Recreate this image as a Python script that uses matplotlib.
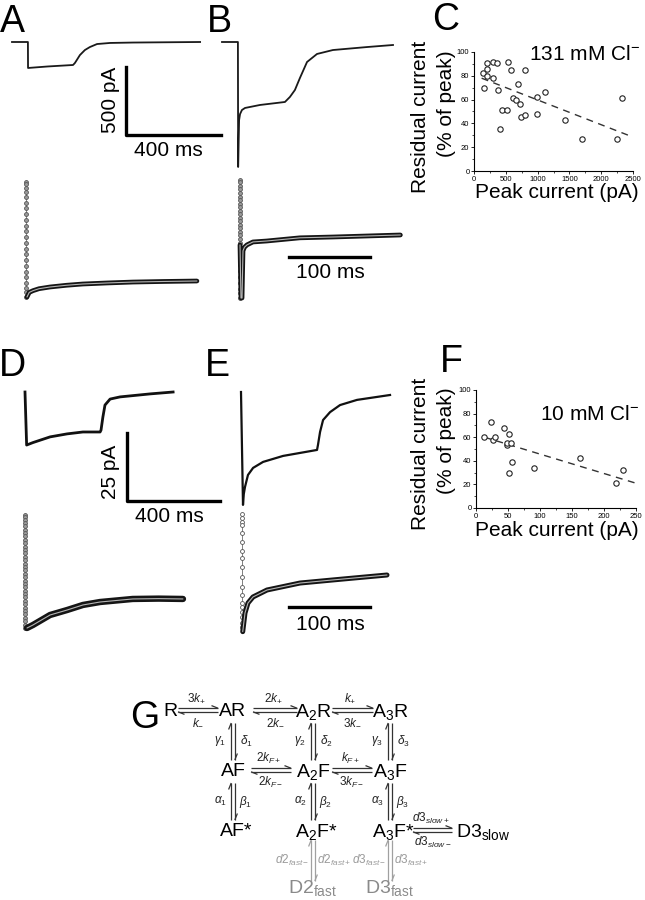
import matplotlib
matplotlib.use('Agg')
import matplotlib.pyplot as plt
from matplotlib.ticker import MultipleLocator

plt.rcParams['font.family'] = ['Liberation Sans', 'DejaVu Sans']
plt.rcParams['mathtext.fontset'] = 'custom'
plt.rcParams['mathtext.rm'] = 'Liberation Sans'
plt.rcParams['mathtext.it'] = 'Liberation Sans:italic'
plt.rcParams['mathtext.bf'] = 'Liberation Sans:bold'
plt.rcParams['mathtext.sf'] = 'Liberation Sans'

# ------------------------------------------------------------------ data
# A / B : 131 mM Cl-, raw traces (time ms, current pA)
a_top_t = [0, 67, 67.5, 150, 257, 265, 273, 286, 307, 328, 358, 413, 509, 792]
a_top_i = [0, 0, -191, -180, -169, -154, -132, -96, -59, -37, -15, -7, -4, 0]
b_top_t = [0, 67, 68, 70, 72, 76, 84, 97, 160, 265, 286, 307, 328, 358, 400, 467, 611, 720]
b_top_i = [0, 0, -919, -740, -574, -530, -500, -485, -463, -441, -404, -353, -265, -147,
           -88, -59, -37, -22]
# D / E : 10 mM Cl-, raw traces (time ms, current pA)
d_top_t = [0, 7, 34, 108, 181, 249, 323, 327, 335, 344, 366, 409, 538, 637]
d_top_i = [0, -19.5, -18.6, -16.5, -15.4, -14.7, -14.7, -14.0, -9.2, -4.8, -2.6, -1.8, -0.7, 0]
e_top_t = [0, 8.6, 12, 17.2, 30, 52, 95, 181, 254, 327, 331, 340, 353, 383, 426, 499, 641]
e_top_i = [0, -41.5, -37.5, -34.9, -30.5, -27.9, -25.7, -23.5, -22.4, -21.3, -19.5, -14.7,
           -10.3, -7.4, -4.8, -2.9, -1.1]

# normalised desensitisation phases (time ms, fraction of peak)
a_bot_t = [1.2, 4, 8.6, 16, 29.6, 50, 70, 100, 132, 170, 211]
a_bot_n = [-1.0, -0.96, -0.945, -0.928, -0.913, -0.898, -0.887, -0.878, -0.870, -0.865, -0.861]
b_bot_t = [0, 1.2, 2.5, 3.7, 5.5, 8.6, 16, 33, 74, 115, 198]
b_bot_n = [-0.55, -1.0, -1.0, -0.6, -0.57, -0.55, -0.525, -0.517, -0.49, -0.483, -0.466]
d_bot_t = [2.5, 9.9, 30.9, 51.9, 71.6, 92.6, 133, 165, 195]
d_bot_n = [-1.0, -0.973, -0.885, -0.841, -0.796, -0.770, -0.743, -0.740, -0.743]
e_bot_t = [0.9, 3.7, 7.4, 13.6, 30.9, 71.6, 112, 150, 179]
e_bot_n = [-0.997, -0.839, -0.754, -0.703, -0.644, -0.585, -0.559, -0.535, -0.517]
# rising-phase samples (fraction of peak)
a_col = [0, -0.02, -0.05, -0.09, -0.13, -0.18, -0.23, -0.28, -0.33, -0.38, -0.43, -0.48,
         -0.53, -0.58, -0.63, -0.68, -0.73, -0.78, -0.83, -0.88, -0.92, -0.96, -1.0]
b_col = [0, -0.02, -0.05, -0.08, -0.11, -0.14, -0.17, -0.20, -0.23, -0.26, -0.29, -0.32,
         -0.35, -0.38, -0.41, -0.44, -0.47, -0.50, -0.53, -0.57, -0.62, -0.67, -0.72,
         -0.77, -0.82, -0.87, -0.92, -0.96, -1.0]
d_col = [0, -0.02, -0.04, -0.07, -0.10, -0.13, -0.16, -0.19, -0.22, -0.25, -0.28, -0.31,
         -0.34, -0.37, -0.40, -0.43, -0.46, -0.49, -0.52, -0.55, -0.58, -0.61, -0.64,
         -0.67, -0.70, -0.73, -0.76, -0.79, -0.82, -0.85, -0.88, -0.91, -0.94, -0.97, -1.0]
e_col = [0, -0.03, -0.07, -0.09, -0.16, -0.24, -0.31, -0.37, -0.45, -0.53, -0.62,
         -0.69, -0.75, -0.79, -0.83, -0.87, -0.92, -0.96]

# C : residual current vs peak current, 131 mM Cl-
c_peak = [141, 199, 209, 209, 152, 303, 303, 361, 371, 408, 445, 518, 528, 586, 607, 659,
          695, 722, 737, 800, 805, 983, 994, 1119, 1423, 1700, 2254, 2333]
c_resid = [82, 91, 86, 80, 70, 78, 92, 91, 68, 35, 51, 51, 92, 85, 61, 60,
           73, 56, 45, 85, 47, 62, 48, 66, 43, 27, 27, 61]
c_fit_x = [120, 2500]
c_fit_y = [78, 28.5]
# F : residual current vs peak current, 10 mM Cl-
f_peak = [13, 23, 26, 30, 44, 52, 48, 49, 55, 57, 51, 91, 163, 218, 230]
f_resid = [60, 73, 58, 60, 68, 63, 53, 55, 55, 39, 30, 34, 42, 21, 32]
f_fit_x = [13, 250]
f_fit_y = [60, 21]

# G : kinetic scheme
states = ['R', 'AR', 'A$_2$R', 'A$_3$R', 'AF', 'A$_2$F', 'A$_3$F',
          'AF*', 'A$_2$F*', 'A$_3$F*', 'D3$_{\\mathrm{slow}}$', 'D2$_{\\mathrm{fast}}$', 'D3$_{\\mathrm{fast}}$']
state_cell = [(0, 0), (1, 0), (2, 0), (3, 0), (1, 1), (2, 1), (3, 1),
              (1, 2), (2, 2), (3, 2), (4, 2), (2, 3), (3, 3)]
state_grey = [False] * 11 + [True, True]
# transitions: (from, to, forward label, backward label, grey)
transitions = [
    ('R', 'AR', '$3k_{+}$', '$k_{-}$', False),
    ('AR', 'A$_2$R', '$2k_{+}$', '$2k_{-}$', False),
    ('A$_2$R', 'A$_3$R', '$k_{+}$', '$3k_{-}$', False),
    ('AF', 'A$_2$F', '$2k_{F+}$', '$2k_{F-}$', False),
    ('A$_2$F', 'A$_3$F', '$k_{F+}$', '$3k_{F-}$', False),
    ('A$_3$F*', 'D3$_{\\mathrm{slow}}$', '$d3_{slow+}$', '$d3_{slow-}$', False),
    ('AR', 'AF', '$\\delta_1$', '$\\gamma_1$', False),
    ('A$_2$R', 'A$_2$F', '$\\delta_2$', '$\\gamma_2$', False),
    ('A$_3$R', 'A$_3$F', '$\\delta_3$', '$\\gamma_3$', False),
    ('AF', 'AF*', '$\\beta_1$', '$\\alpha_1$', False),
    ('A$_2$F', 'A$_2$F*', '$\\beta_2$', '$\\alpha_2$', False),
    ('A$_3$F', 'A$_3$F*', '$\\beta_3$', '$\\alpha_3$', False),
    ('A$_2$F*', 'D2$_{\\mathrm{fast}}$', '$d2_{fast+}$', '$d2_{fast-}$', True),
    ('A$_3$F*', 'D3$_{\\mathrm{fast}}$', '$d3_{fast+}$', '$d3_{fast-}$', True),
]

# ------------------------------------------------------------------ layout
W, H = 645, 900
fig = plt.figure(figsize=(6.45, 9), dpi=100)


def px_rect(x0, y0, x1, y1):
    return [x0 / W, 1 - y1 / H, (x1 - x0) / W, (y1 - y0) / H]


def ftext(x, y, s, **kw):
    return fig.text(x / W, 1 - y / H, s, **kw)


def trace_axes(ox, oy, sx, sy, box):
    x0, y0, x1, y1 = box
    ax = fig.add_axes(px_rect(x0, y0, x1, y1))
    ax.set_xlim((x0 - ox) / sx, (x1 - ox) / sx)
    ax.set_ylim(-(y1 - oy) / sy, -(y0 - oy) / sy)
    ax.axis('off')
    return ax


# panel letters
for lab, x, y in [('A', 0, 32), ('B', 207, 32), ('C', 432, 30),
                  ('D', -1, 376), ('E', 205, 376), ('F', 440, 372), ('G', 130, 728)]:
    ftext(x, y, lab, fontsize=27, va='baseline', ha='left')

# ---- raw traces
SX_AB, SY_AB = 0.2375, 0.136
SX_DE, SY_DE = 0.2325, 2.72
ax = trace_axes(12, 42, SX_AB, SY_AB, (0, 30, 215, 180))
ax.plot(a_top_t, a_top_i, color='#1a1a1a', lw=1.3, solid_joinstyle='round')
ax = trace_axes(222, 42, SX_AB, SY_AB, (215, 30, 415, 180))
ax.plot(b_top_t, b_top_i, color='#1a1a1a', lw=1.3, solid_joinstyle='round')
ax = trace_axes(25, 392, SX_DE, SY_DE, (0, 380, 215, 520))
ax.plot(d_top_t, d_top_i, color='#111111', lw=2.0, solid_joinstyle='round')
ax = trace_axes(241, 392, SX_DE, SY_DE, (215, 380, 415, 520))
ax.plot(e_top_t, e_top_i, color='#111111', lw=1.6, solid_joinstyle='round')

# scale bars for raw traces
ax = trace_axes(126, 135, SX_AB, SY_AB, (110, 60, 230, 140))
ax.plot([0, 0, 400], [500, 0, 0], color='black', lw=2.4, clip_on=False)
ftext(110, 100, '500 pA', fontsize=15, rotation=90, ha='center', va='center')
ftext(168, 150, '400 ms', fontsize=15, ha='center', va='center')
ax = trace_axes(127, 501, SX_DE, SY_DE, (110, 420, 230, 505))
ax.plot([0, 0, 400], [25, 0, 0], color='black', lw=2.4, clip_on=False)
ftext(110, 472, '25 pA', fontsize=15, rotation=90, ha='center', va='center')
ftext(169, 517, '400 ms', fontsize=15, ha='center', va='center')

# ---- normalised desensitisation traces
SX_N = 0.81


def norm_panel(ox, oy, sy, box, col, t, n, fill, band_lw):
    ax = trace_axes(ox, oy, SX_N, sy, box)
    ax.plot([0] * len(col), col, color='#808080', lw=0.7, marker='o', ms=2.8,
            mfc=fill, mec='#555555', mew=0.6, zorder=2)
    ax.plot(t, n, color='#151515', lw=band_lw, solid_capstyle='round',
            solid_joinstyle='round', zorder=3)
    ax.plot(t, n, color='#b5b5b5', lw=0.8, solid_capstyle='round', zorder=4)
    return ax


norm_panel(26, 182, 115, (10, 170, 215, 310), a_col, a_bot_t, a_bot_n, '#9a9a9a', 3.4)
norm_panel(240, 180, 118, (225, 170, 415, 310), b_col, b_bot_t, b_bot_n, '#9a9a9a', 3.4)
norm_panel(25, 515, 113, (10, 505, 215, 640), d_col, d_bot_t, d_bot_n, '#9a9a9a', 4.6)
norm_panel(242, 514, 118, (225, 505, 415, 640), e_col, e_bot_t, e_bot_n, 'white', 3.6)

# 100 ms scale bars
for oy, ty in [(257, 272), (607, 625)]:
    ax = trace_axes(289, oy, SX_N, 100, (280, oy - 10, 380, oy + 10))
    ax.plot([0, 100], [0, 0], color='black', lw=2.4, clip_on=False)
    ftext(330, ty, '100 ms', fontsize=15, ha='center', va='center')


# ---- scatter panels
def scatter_panel(box, x, y, fx, fy, xmax, xmaj, note, note_xy, lab_y):
    ax = fig.add_axes(px_rect(*box))
    ax.scatter(x, y, s=15, facecolors='white', edgecolors='#222222', linewidths=0.8,
               zorder=3, clip_on=False)
    ax.plot(fx, fy, color='#333333', lw=1.0, ls=(0, (5, 4)), zorder=2)
    ax.set_xlim(0, xmax)
    ax.set_ylim(0, 100)
    ax.xaxis.set_major_locator(MultipleLocator(xmaj))
    ax.xaxis.set_minor_locator(MultipleLocator(xmaj / 2))
    ax.yaxis.set_major_locator(MultipleLocator(20))
    ax.yaxis.set_minor_locator(MultipleLocator(10))
    for s in ['top', 'right']:
        ax.spines[s].set_visible(False)
    for s in ['left', 'bottom']:
        ax.spines[s].set_linewidth(0.8)
    ax.tick_params(which='major', direction='out', length=2.5, width=0.6,
                   labelsize=5.5, pad=0.8)
    ax.tick_params(which='minor', direction='out', length=1.5, width=0.5)
    ftext(note_xy[0], note_xy[1], note, fontsize=15, ha='right', va='center')
    x0, y0, x1, y1 = box
    ftext(421, (y0 + y1) / 2 + 5, 'Residual current', fontsize=15, rotation=90,
          ha='center', va='center')
    ftext(447, (y0 + y1) / 2 - 8, '(% of peak)', fontsize=15, rotation=90,
          ha='center', va='center')
    ftext(557, lab_y, 'Peak current (pA)', fontsize=15, ha='center', va='center')
    return ax


scatter_panel((474, 52, 633, 171), c_peak, c_resid, c_fit_x, c_fit_y, 2500, 500,
              '131 mM Cl$^{-}$', (640, 55), 193)
scatter_panel((476, 390, 636, 508), f_peak, f_resid, f_fit_x, f_fit_y, 250, 50,
              '10 mM Cl$^{-}$', (639, 415), 531)

# ---- kinetic scheme G
col_x = [170, 233, 313, 390, 480]
row_y = [710, 770, 830, 887]
ax = fig.add_axes(px_rect(120, 680, 530, 900))
ax.set_xlim(120, 530)
ax.set_ylim(900, 680)
ax.axis('off')

pos = {}
for name, (c, r), g in zip(states, state_cell, state_grey):
    x, y = col_x[c], row_y[r]
    pos[name] = (x, y)
    dx = 3 if name.endswith('*') else 0
    if c == 4:
        ax.text(456, y + 6.5, name, fontsize=14, ha='left', va='baseline', color='black')
    else:
        ax.text(x + dx, y + 6.5, name, fontsize=14, ha='center', va='baseline',
                color='#8a8a8a' if g else 'black')


def harpoons(p0, p1, color, gap=1.8, barb=6.5, boff=2.6, lw=0.9):
    (x0, y0), (x1, y1) = p0, p1
    kw = dict(color=color, lw=lw, solid_capstyle='butt')
    if y0 == y1:   # horizontal: forward on top (right), backward below (left)
        ax.plot([x0, x1], [y0 - gap, y0 - gap], **kw)
        ax.plot([x1, x1 - barb], [y0 - gap, y0 - gap - boff], **kw)
        ax.plot([x1, x0], [y0 + gap, y0 + gap], **kw)
        ax.plot([x0, x0 + barb], [y0 + gap, y0 + gap + boff], **kw)
    else:          # vertical: forward (down) on right, backward (up) on left
        ax.plot([x0 + gap, x0 + gap], [y0, y1], **kw)
        ax.plot([x0 + gap, x0 + gap + boff], [y1, y1 - barb], **kw)
        ax.plot([x0 - gap, x0 - gap], [y1, y0], **kw)
        ax.plot([x0 - gap, x0 - gap - boff], [y0, y0 + barb], **kw)


for a, b, fwd, bwd, g in transitions:
    (xa, ya), (xb, yb) = pos[a], pos[b]
    lc = '#9a9a9a' if g else '#222222'
    ac = '#a0a0a0' if g else '#333333'
    if ya == yb:
        left = {'R': 178, 'AR': 253, 'A$_2$R': 332, 'AF': 251, 'A$_2$F': 332, 'A$_3$F*': 413}[a]
        right = {'AR': 218, 'A$_2$R': 297, 'A$_3$R': 373, 'A$_2$F': 291, 'A$_3$F': 372,
                 'D3$_{\\mathrm{slow}}$': 452}[b]
        harpoons((left, ya), (right, ya), ac)
        xm = (left + right) / 2
        ax.text(xm - 2, ya - 12, fwd, fontsize=8.5, ha='center', va='center', color=lc)
        ax.text(xm, ya + 12, bwd, fontsize=8.5, ha='center', va='center', color=lc)
    else:
        top = ya + 13 if ya < 820 else ya + 10
        bot = yb - 10 if yb < 880 else yb - 6
        harpoons((xa, top), (xa, bot), ac)
        ym = (top + bot) / 2
        off = 21 if g else 13
        ax.text(xa + off, ym, fwd, fontsize=8.5, ha='center', va='center', color=lc)
        ax.text(xa - off, ym, bwd, fontsize=8.5, ha='center', va='center', color=lc)

fig.savefig('out.png', dpi=100, facecolor='white')
